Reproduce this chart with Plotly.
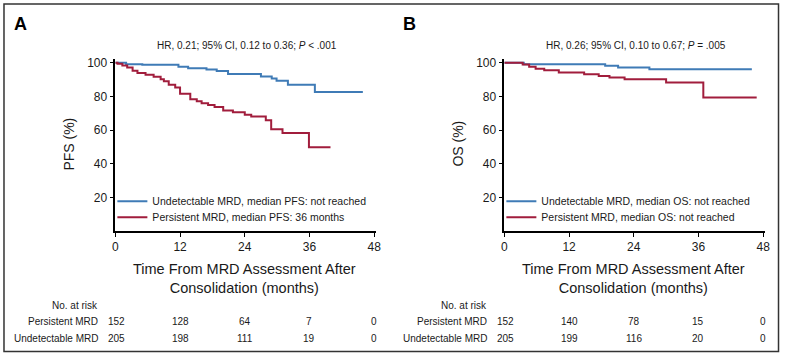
import plotly.graph_objects as go

# ---------------- data ----------------
month_ticks = [0, 12, 24, 36, 48]
pct_ticks = [20, 40, 60, 80, 100]

# Panel A: PFS
pfs_undetectable_t = [0, 2.0, 5.0, 11.7, 13.5, 16.9, 18.8, 20.9, 27.0, 29.0, 29.9, 32.0, 37.0, 45.9]
pfs_undetectable_v = [100, 99.2, 98.8, 97.6, 96.8, 96.0, 95.2, 93.3, 91.9, 90.7, 89.4, 87.0, 82.7, 82.7]
pfs_persistent_t = [0, 0.4, 1.3, 2.2, 3.2, 4.1, 5.6, 7.1, 8.4, 9.0, 9.9, 11.1, 12.0, 13.9, 15.1, 16.0,
                    17.2, 18.4, 20.0, 21.8, 24.0, 25.2, 27.9, 28.9, 31.0, 35.9, 39.9]
pfs_persistent_v = [100, 99.4, 98.4, 97.2, 95.3, 93.9, 92.9, 91.7, 90.3, 89.0, 87.0, 85.4, 81.7, 78.4, 77.2, 76.0,
                    75.0, 73.7, 71.7, 70.7, 69.1, 68.2, 65.9, 60.5, 58.4, 49.9, 49.9]

# Panel B: OS
os_undetectable_t = [0, 3.6, 18.7, 21.1, 26.9, 45.9]
os_undetectable_v = [100, 99.1, 98.2, 97.2, 96.2, 96.2]
os_persistent_t = [0, 3.4, 4.6, 5.8, 7.4, 10.1, 14.8, 17.5, 19.5, 22.3, 30.0, 36.9, 46.8]
os_persistent_v = [100, 99.0, 97.7, 96.5, 95.6, 94.3, 93.2, 92.2, 91.2, 90.3, 88.3, 79.4, 79.4]

risk_labels = ["No. at risk", "Persistent MRD", "Undetectable MRD"]
risk_pfs_persistent = [152, 128, 64, 7, 0]
risk_pfs_undetectable = [205, 198, 111, 19, 0]
risk_os_persistent = [152, 140, 78, 15, 0]
risk_os_undetectable = [205, 199, 116, 20, 0]

legend_pfs = ["Undetectable MRD, median PFS: not reached", "Persistent MRD, median PFS: 36 months"]
legend_os = ["Undetectable MRD, median OS: not reached", "Persistent MRD, median OS: not reached"]
hr_texts = ["HR, 0.21; 95% CI, 0.12 to 0.36; <i>P</i> < .001", "HR, 0.26; 95% CI, 0.10 to 0.67; <i>P</i> = .005"]
panel_labels = ["A", "B"]
y_titles = ["PFS (%)", "OS (%)"]
x_title = "Time From MRD Assessment After<br>Consolidation (months)"

# ---------------- styling ----------------
W, H = 785, 353
BLUE = "#3f7bb6"
RED = "#a11d3c"
FONT = "Liberation Sans, Arial, Helvetica, sans-serif"
TXT = "#1a1a1a"


def px(x):
    return x / W


def py(y):
    return 1 - y / H


fig = go.Figure()

panels = [
    dict(xa="x", ya="y", x0=113.5, lg=("legend", "legend2"), curves=[
        (pfs_undetectable_t, pfs_undetectable_v, BLUE, legend_pfs[0]),
        (pfs_persistent_t, pfs_persistent_v, RED, legend_pfs[1])],
        risk=(risk_pfs_persistent, risk_pfs_undetectable)),
    dict(xa="x2", ya="y2", x0=506.5, lg=("legend3", "legend4"), curves=[
        (os_undetectable_t, os_undetectable_v, BLUE, legend_os[0]),
        (os_persistent_t, os_persistent_v, RED, legend_os[1])],
        risk=(risk_os_persistent, risk_os_undetectable)),
]

PPM = 261.5 / 48.0   # pixels per month
XMAX = 48.4
YMAX = 102
Y0PX = 230.3
PPU = 1.7            # pixels per percent

annotations = []
layout_axes = {}
for i, p in enumerate(panels):
    for (t, v, col, name), lg in zip(p["curves"], p["lg"]):
        fig.add_trace(go.Scatter(
            x=t, y=v, mode="lines", line=dict(color=col, width=2, shape="hv"),
            name=name, xaxis=p["xa"], yaxis=p["ya"], legend=lg, showlegend=True,
            hoverinfo="skip"))
    x0 = p["x0"]
    x1 = x0 + XMAX * PPM
    xkey = "xaxis" if i == 0 else "xaxis2"
    ykey = "yaxis" if i == 0 else "yaxis2"
    layout_axes[xkey] = dict(
        domain=[px(x0), px(x1)], range=[0, XMAX], anchor=p["ya"],
        tickvals=month_ticks, ticks="outside", ticklen=4, tickwidth=1.2, tickcolor="black",
        showline=True, linecolor="black", linewidth=1.5, showgrid=False, zeroline=False,
        tickfont=dict(family=FONT, size=12, color=TXT), fixedrange=True)
    layout_axes[ykey] = dict(
        domain=[py(Y0PX), py(Y0PX - YMAX * PPU)], range=[0, YMAX], anchor=p["xa"],
        tickvals=pct_ticks, ticks="outside", ticklen=4, tickwidth=1.2, tickcolor="black",
        showline=True, linecolor="black", linewidth=1.5, showgrid=False, zeroline=False,
        tickfont=dict(family=FONT, size=12, color=TXT), fixedrange=True)

    cx = (x0 + x0 + 48 * PPM) / 2
    # panel letter
    annotations.append(dict(text="<b>%s</b>" % panel_labels[i], x=px(x0 - 96), y=py(21),
                            xref="paper", yref="paper", xanchor="center", yanchor="middle",
                            showarrow=False, font=dict(family=FONT, size=18, color="black")))
    # HR text
    annotations.append(dict(text=hr_texts[i], x=px(cx + 2), y=py(43), xref="paper", yref="paper",
                            xanchor="center", yanchor="middle", showarrow=False,
                            font=dict(family=FONT, size=10, color=TXT)))
    # y title
    annotations.append(dict(text=y_titles[i], x=px(x0 - 47), y=py(142), xref="paper", yref="paper",
                            xanchor="center", yanchor="middle", textangle=-90, showarrow=False,
                            font=dict(family=FONT, size=14, color=TXT)))
    # x title
    annotations.append(dict(text=x_title, x=px(cx), y=py(278), xref="paper", yref="paper",
                            xanchor="center", yanchor="middle", showarrow=False,
                            font=dict(family=FONT, size=14.5, color=TXT)))
    # risk table
    label_right = x0 - 15
    for lab, ypix in zip(risk_labels, [305, 321, 338]):
        annotations.append(dict(text=lab, x=px(label_right), y=py(ypix), xref="paper", yref="paper",
                                xanchor="right", yanchor="middle", showarrow=False,
                                font=dict(family=FONT, size=10, color=TXT)))
    for row, ypix in zip(p["risk"], [321, 338]):
        for m, n in zip(month_ticks, row):
            annotations.append(dict(text=str(n), x=m + (0.3 if m == 0 else 0), y=py(ypix),
                                    xref=p["xa"], yref="paper", xanchor="center", yanchor="middle",
                                    showarrow=False, font=dict(family=FONT, size=10, color=TXT)))

legend_common = dict(xanchor="left", yanchor="middle", bgcolor="rgba(0,0,0,0)",
                     borderwidth=0, font=dict(family=FONT, size=10.5, color=TXT),
                     itemwidth=30, tracegroupgap=0)
legends = {}
for i, p in enumerate(panels):
    x0 = p["x0"]
    for lg, ypix in zip(p["lg"], [200, 216]):
        legends[lg] = dict(legend_common, x=px(x0 - 3), y=py(ypix))

fig.update_layout(
    width=W, height=H, margin=dict(l=0, r=0, t=0, b=0),
    paper_bgcolor="white", plot_bgcolor="white",
    annotations=annotations,
    shapes=[dict(type="rect", xref="paper", yref="paper", x0=px(1), x1=px(783.5),
                 y0=py(351.5), y1=py(1), line=dict(color="#333", width=1.5))],
    **layout_axes, **legends,
)

fig.write_html("out.html")
